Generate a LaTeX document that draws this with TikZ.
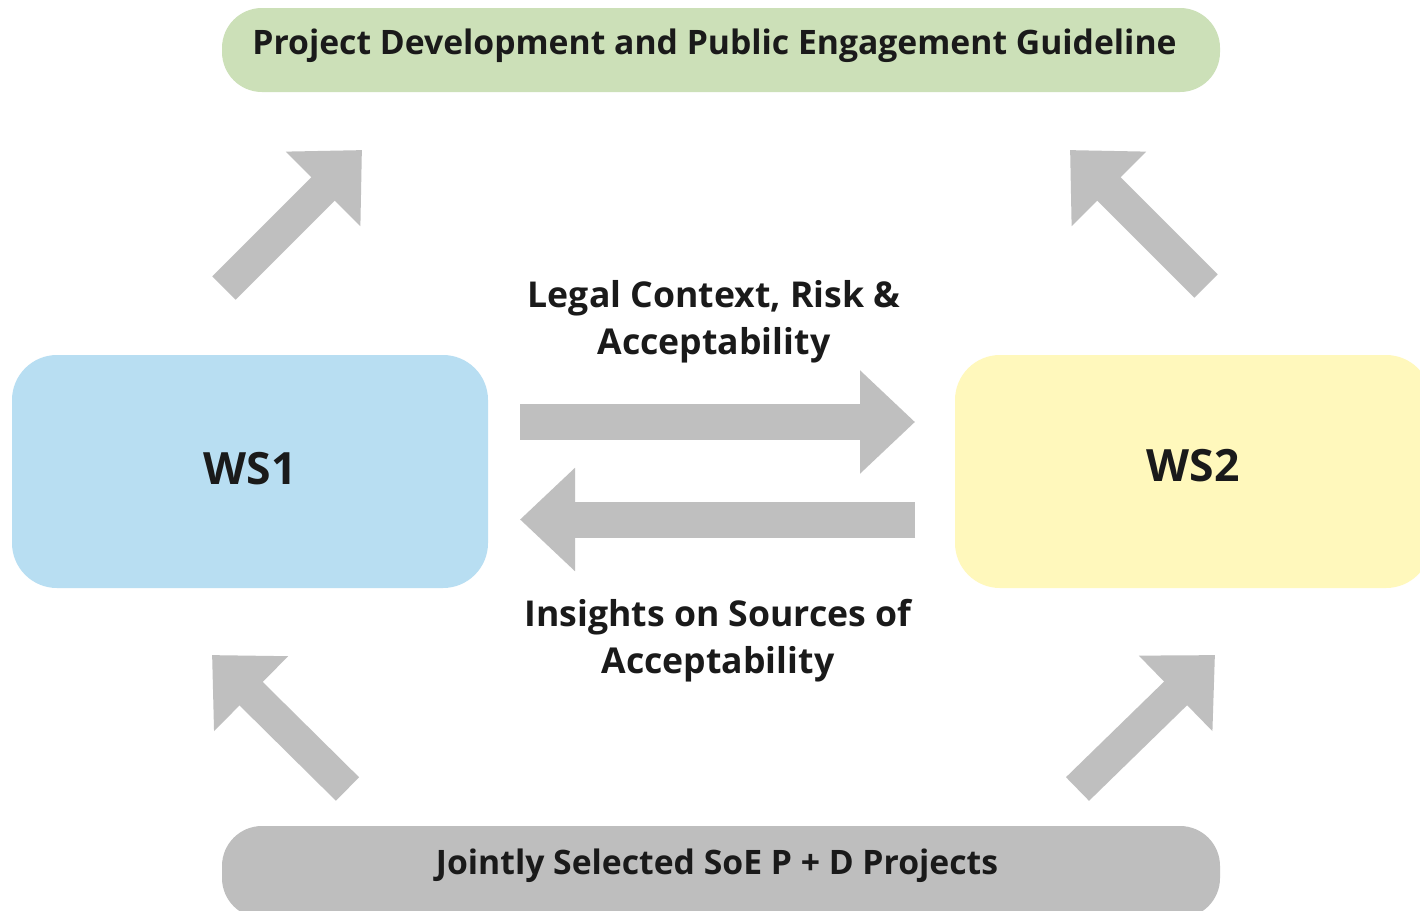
\documentclass[tikz,border=0pt]{standalone}
\usepackage{fontspec}
\setmainfont{Open Sans}
\usetikzlibrary{arrows.meta}
\definecolor{topgreen}{HTML}{CCE0B8}
\definecolor{wsblue}{HTML}{B8DEF2}
\definecolor{wsyellow}{HTML}{FFF8BC}
\definecolor{barGray}{HTML}{BEBEBE}
\definecolor{arrowGray}{HTML}{BFBFBF}
\definecolor{txt}{HTML}{1A1A1A}
\newcommand{\placetext}[2]{\raisebox{#1}[0pt][0pt]{#2}}
\tikzset{
  bar/.style={rectangle, rounded corners=40pt, minimum width=998pt, minimum height=84pt, inner sep=0pt, text=txt, font=\bfseries\fontsize{33.7}{40}\selectfont},
  wsbox/.style={rectangle, rounded corners=45pt, minimum width=476pt, minimum height=233pt, inner sep=0pt, text=txt, font=\bfseries\fontsize{44.5}{52}\selectfont},
  lbl/.style={align=center, text=txt, inner sep=0pt, font=\bfseries\fontsize{35.6}{47}\selectfont},
  fatdiag/.style={draw=arrowGray, line width=33pt, -{Triangle[width=102pt,length=55pt]}, color=arrowGray},
  fathoriz/.style={draw=arrowGray, line width=36pt, -{Triangle[width=100pt,length=55pt]}, color=arrowGray},
}
\begin{document}
\begin{tikzpicture}[x=1pt,y=-1pt]
\useasboundingbox (0,0) rectangle (1420,910);
\clip (0,0) rectangle (1420,910);
\fill[white] (0,0) rectangle (1420,910);

\node[bar, fill=topgreen] (guide) at (721,50) {\kern-13pt\placetext{-4.5pt}{Project Development and Public Engagement Guideline}};
\node[bar, fill=barGray, minimum height=92pt] (joint) at (721,872) {\kern-8pt\placetext{-2pt}{Jointly Selected SoE P + D Projects}};
\node[wsbox, fill=wsblue] (ws1) at (250,471.5) {\placetext{-12.9pt}{WS1}};
\node[wsbox, fill=wsyellow] (ws2) at (1193,471.5) {\placetext{-9.9pt}{WS2}};

\node[lbl] (legal) at (714,322) {Legal Context, Risk \&\\Acceptability};
\node[lbl] (insights) at (718,641) {Insights on Sources of\\Acceptability};

\coordinate (rT) at (520,422);
\coordinate (rH) at (915,422);
\coordinate (lT) at (915,519.5);
\coordinate (lH) at (520,519.5);
\draw[fathoriz] (rT) -- (rH);
\draw[fathoriz] (lT) -- (lH);

\coordinate (ulT) at (224,288);
\coordinate (ulH) at (362,150);
\coordinate (urT) at (1206,286);
\coordinate (urH) at (1070,150);
\coordinate (llT) at (347.5,789);
\coordinate (llH) at (212,655);
\coordinate (lrT) at (1077.5,789);
\coordinate (lrH) at (1215,655);
\draw[fatdiag] (ulT) -- (ulH);
\draw[fatdiag] (urT) -- (urH);
\draw[fatdiag] (llT) -- (llH);
\draw[fatdiag] (lrT) -- (lrH);
\end{tikzpicture}
\end{document}
